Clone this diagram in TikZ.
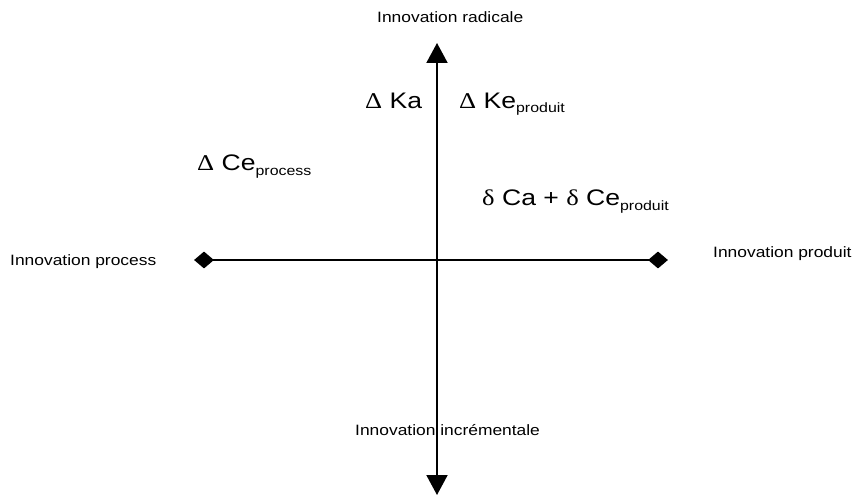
\documentclass[tikz,border=0pt]{standalone}
\usepackage{fontspec}
\setmainfont{Liberation Sans}[FakeStretch=1.16]
\newfontfamily\bigsans{Liberation Sans}[FakeStretch=1.18]
\newfontfamily\gr{Liberation Serif}[FakeStretch=1.18]
\usetikzlibrary{shapes.geometric,arrows.meta}
\newcommand{\smalltxt}{\fontsize{15}{18}\selectfont}
\newcommand{\bigtxt}{\bigsans\fontsize{22.5}{27}\selectfont}
\newcommand{\subtxt}[1]{\raisebox{-5pt}{\fontsize{13.5}{15}\selectfont #1}}
\tikzset{
  lbl/.style={anchor=base west, inner sep=0pt, font=\smalltxt},
  term/.style={anchor=base west, inner sep=0pt, font=\bigtxt},
  dmd/.style={diamond, fill=black, draw=none, inner sep=0pt, minimum width=20pt, minimum height=17pt},
  axis/.style={line width=2pt}
}
\begin{document}
\begin{tikzpicture}[x=1pt,y=-1pt]
\useasboundingbox (0,0) rectangle (852,495);
% horizontal axis
\node[dmd] (L) at (204,260) {};
\node[dmd] (R) at (658,260) {};
\draw[axis] (L.center) -- (R.center);
% vertical axis
\coordinate (top) at (437,43);
\coordinate (bot) at (437,495);
\draw[axis, {Triangle[length=20pt,width=21pt]}-{Triangle[length=20pt,width=21pt]}] (bot) -- (top);
% labels
\node[lbl] (rad) at (377,23) {Innovation radicale};
\node[lbl] (inc) at (355,435) {Innovation incrémentale};
\node[lbl] (proc) at (10,265) {Innovation process};
\node[lbl] (prod) at (713,257) {Innovation produit};
% terms
\node[term] (ka) at (365,108) {{\gr Δ} Ka};
\node[term] (ke) at (459,108) {{\gr Δ} Ke\subtxt{produit}};
\node[term] (ce) at (197,170) {{\gr Δ} Ce\subtxt{process}};
\node[term] (ca) at (482,205) {{\gr δ} Ca + {\gr δ} Ce\subtxt{produit}};
\end{tikzpicture}
\end{document}
